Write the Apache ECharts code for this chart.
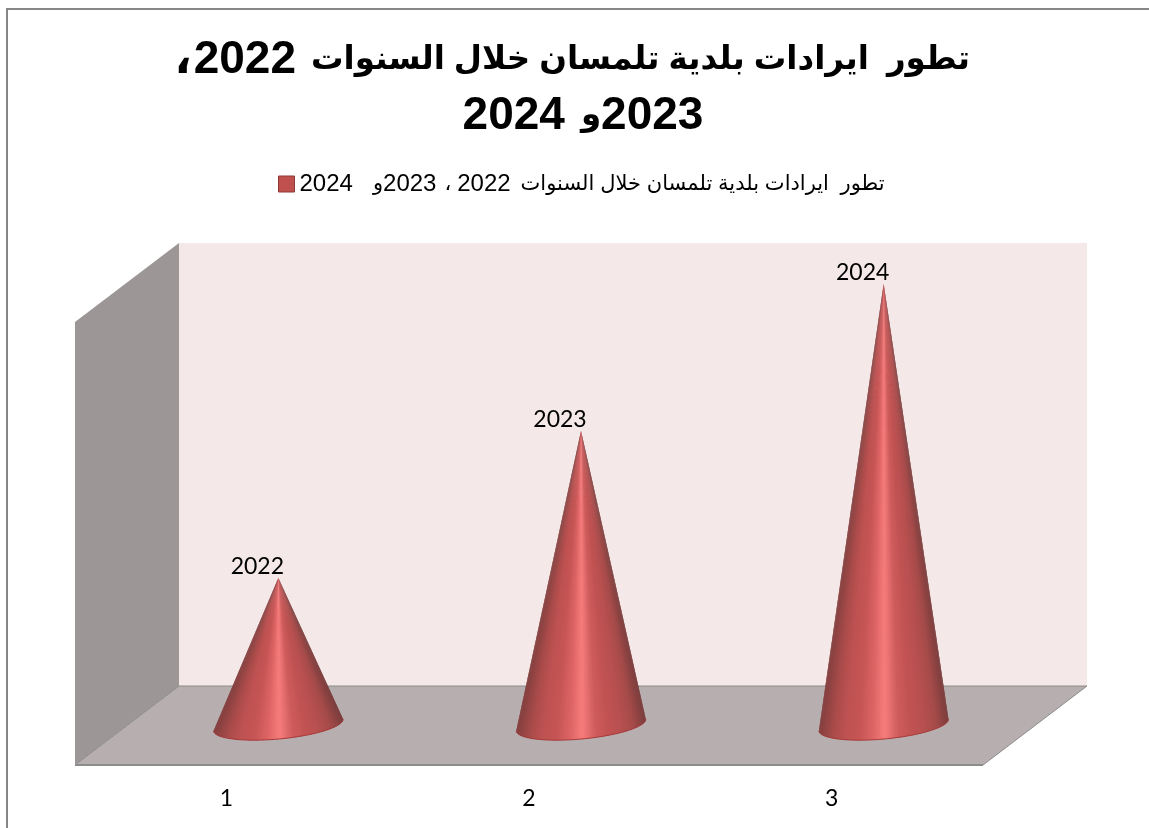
<!DOCTYPE html>
<html>
<head>
<meta charset="utf-8">
<style>html,body{margin:0;padding:0;background:#fff}#chart{width:1149px;height:828px}</style>
<script src="https://cdn.jsdelivr.net/npm/echarts@6/dist/echarts.min.js"></script>
</head>
<body>
<div id="chart"></div>
<script>
// Revenue of the municipality of Tlemcen, drawn as 3D-style cones on a walled floor.
// Mixed Arabic and digit text is laid out as rich tokens in display order.
const titleWords = 'تطور  ايرادات بلدية تلمسان خلال السنوات';
const conjunction = 'و';
const arabicComma = '،';
const seriesName = 'تطور  ايرادات بلدية تلمسان خلال السنوات 2022، 2023و 2024';
const categories = ['1', '2', '3'];
const years = [2022, 2023, 2024];
const axisMin = 2021;
const axisMax = 2024;

// Cone surface shading, from the left silhouette to the right one.
const coneShades = ['#7a3d3c', '#a54b4a', '#b85050', '#c25353', '#d05d5d', '#f77c7c',
                    '#dc6363', '#c65555', '#bf5252', '#a94b4a', '#84403f'];
const latin = 'Lato, sans-serif';
const arabic = '"Liberation Sans", "DejaVu Sans", sans-serif';

// Room geometry: the depth vector links the front plane to the back wall.
const front = { left: 75, right: 983, top: 322, bottom: 765 };
const depth = { x: 104, y: -79 };

function renderCone(params, api) {
  const i = api.value(0);
  const apex = api.coord([i, api.value(1)]);
  const base = api.coord([i, axisMin]);
  const a = api.size([1, 0])[0] * 0.215;
  const b = 14;
  const tilt = 5.3 * Math.PI / 180;
  const rim = t => [
    base[0] + a * Math.cos(t) * Math.cos(tilt) + b * Math.sin(t) * Math.sin(tilt),
    base[1] - a * Math.cos(t) * Math.sin(tilt) + b * Math.sin(t) * Math.cos(tilt)
  ];
  const steps = 80;
  const children = [];
  const arc = [];
  for (let k = 0; k < steps; k++) {
    const t0 = Math.PI * k / steps;
    const t1 = Math.PI * (k + 1) / steps;
    const shade = echarts.color.lerp((1 - Math.cos((t0 + t1) / 2)) / 2, coneShades);
    // Each slice runs under the next one so no seams show between them.
    const overlapEnd = Math.min(Math.PI, t1 + Math.PI / steps);
    children.push({
      type: 'polygon',
      shape: { points: [apex, rim(t0), rim(t1), rim(overlapEnd)] },
      style: { fill: shade }
    });
    arc.push(rim(t0));
  }
  arc.push(rim(Math.PI));
  children.push({
    type: 'polyline',
    shape: { points: arc },
    style: { fill: null, stroke: '#a53a3a', lineWidth: 1 }
  });
  children.push({
    type: 'text',
    style: {
      text: String(api.value(1)),
      x: apex[0] - 21,
      y: apex[1] - 11,
      align: 'center',
      verticalAlign: 'middle',
      fill: '#000',
      font: '23px ' + latin
    }
  });
  return { type: 'group', children };
}

const boldTitle = { fontFamily: arabic, fontWeight: 'bold', lineHeight: 56, color: '#000' };
const legendText = { fontFamily: arabic, color: '#000' };

const chart = echarts.init(document.getElementById('chart'), null, { renderer: 'canvas' });
chart.setOption({
  animation: false,
  backgroundColor: '#ffffff',
  title: {
    text: `{k|${arabicComma}}{d|${years[0]}}{a|${titleWords}}\n{e|${years[2]}}{c|${conjunction}}{d|${years[1]}}`,
    left: 572,
    top: 32,
    padding: 0,
    textAlign: 'center',
    textStyle: {
      rich: {
        a: { ...boldTitle, fontSize: 32.5, padding: [0, 0, 0, 15] },
        c: { ...boldTitle, fontSize: 32.5, padding: [0, 0, 0, 16] },
        d: { ...boldTitle, fontSize: 46 },
        e: { ...boldTitle, fontSize: 46, padding: [0, 0, 0, 22] },
        k: { ...boldTitle, fontSize: 46, padding: [0, 2, 0, 0] }
      }
    }
  },
  legend: {
    top: 172,
    left: 278,
    padding: 0,
    itemWidth: 16,
    itemHeight: 16,
    itemGap: 8,
    data: [{
      name: seriesName,
      icon: 'rect',
      itemStyle: { color: '#c0504d', borderColor: '#8c3836', borderWidth: 1 }
    }],
    formatter: () => `{d|${years[2]}}{c|${conjunction}}{d|${years[1]}}{k|${arabicComma}}{d|${years[0]}}{a|${titleWords}}`,
    textStyle: {
      rich: {
        a: { ...legendText, fontSize: 21, padding: [0, 0, 0, 10] },
        c: { ...legendText, fontSize: 21, padding: [0, 0, 0, 20] },
        d: { ...legendText, fontSize: 24 },
        k: { ...legendText, fontSize: 21, padding: [0, 6, 0, 8] }
      }
    }
  },
  graphic: [
    // Chart frame (top and left edges)
    { type: 'polyline', shape: { points: [[7, 828], [7, 9], [1149, 9]] },
      style: { fill: null, stroke: '#868686', lineWidth: 2 } },
    // Left wall
    { type: 'polygon', shape: { points: [
        [front.left, front.top], [front.left + depth.x, front.top + depth.y],
        [front.left + depth.x, front.bottom + depth.y], [front.left, front.bottom]] },
      style: { fill: '#9c9696' } },
    // Back wall
    { type: 'rect', shape: { x: front.left + depth.x, y: front.top + depth.y,
        width: front.right - front.left, height: front.bottom - front.top },
      style: { fill: '#f4e8e8' } },
    // Floor
    { type: 'polygon', shape: { points: [
        [front.left + depth.x, front.bottom + depth.y], [front.right + depth.x, front.bottom + depth.y],
        [front.right, front.bottom], [front.left, front.bottom]] },
      style: { fill: '#b7afaf', stroke: '#8c8c8c', lineWidth: 1 } },
    { type: 'line', shape: { x1: front.left, y1: front.bottom, x2: front.right, y2: front.bottom },
      style: { stroke: '#8c8c8c', lineWidth: 2 } }
  ],
  grid: [
    // Plane through the middle of the floor, where the cones stand
    { left: 127, width: 908, top: 284, height: 441 },
    // Front plane, which carries the category labels
    { left: front.left, width: front.right - front.left, top: front.top, height: front.bottom - front.top }
  ],
  xAxis: [
    { gridIndex: 0, type: 'category', data: categories, show: false },
    { gridIndex: 1, type: 'category', data: categories,
      axisLine: { show: false }, axisTick: { show: false },
      axisLabel: { margin: 22, color: '#000', fontFamily: latin, fontSize: 23 } }
  ],
  yAxis: [
    { gridIndex: 0, type: 'value', min: axisMin, max: axisMax, show: false },
    { gridIndex: 1, type: 'value', min: axisMin, max: axisMax, show: false }
  ],
  series: [{
    name: seriesName,
    type: 'custom',
    xAxisIndex: 0,
    yAxisIndex: 0,
    silent: true,
    clip: false,
    renderItem: renderCone,
    encode: { x: 0, y: 1 },
    data: years.map((y, i) => [i, y])
  }]
});
</script>
</body>
</html>
